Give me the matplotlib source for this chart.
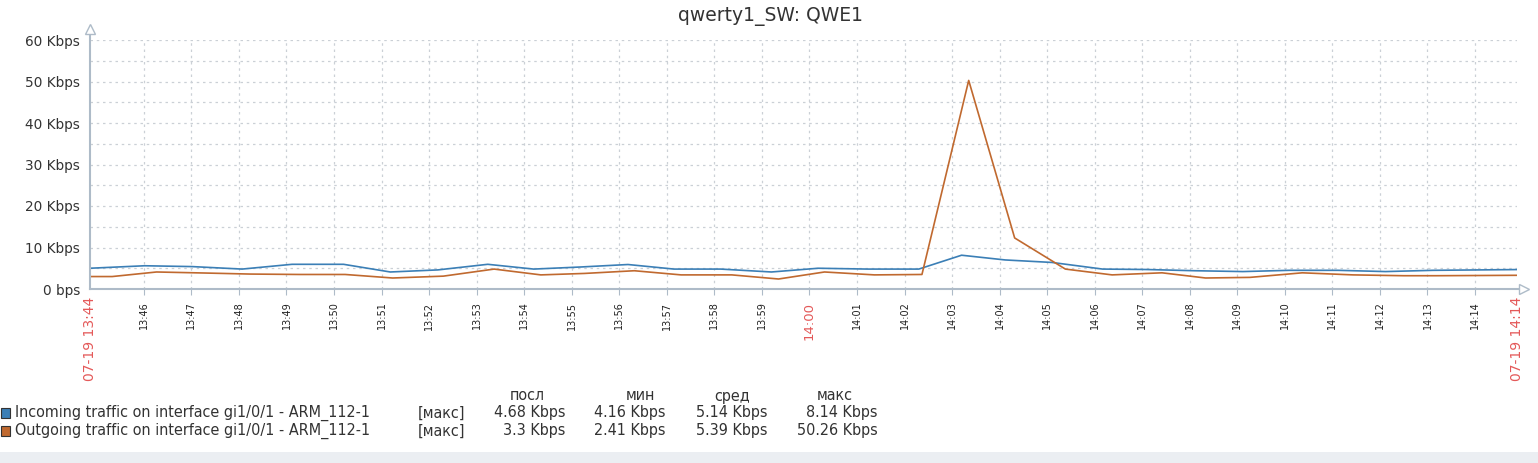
import pandas as pd
import matplotlib.pyplot as plt
from matplotlib import font_manager

# --- Datos ---
dia = "2024-07-19 "
t_in = ["13:44:52", "13:46:01", "13:47:01", "13:48:04", "13:49:07", "13:50:12",
        "13:51:11", "13:52:11", "13:53:14", "13:54:12", "13:55:11", "13:56:11",
        "13:57:09", "13:58:08", "13:59:12", "14:00:11", "14:01:14", "14:02:18",
        "14:03:12", "14:04:07", "14:05:06", "14:06:10", "14:07:04", "14:08:07",
        "14:09:07", "14:10:06", "14:11:07", "14:12:07", "14:13:07", "14:14:52"]
v_in = [5.0, 5.6, 5.4, 4.8, 5.95, 5.95, 4.1, 4.6, 5.95, 4.8, 5.3, 5.9,
        4.8, 4.8, 4.1, 5.0, 4.8, 4.8, 8.14, 7.0, 6.4, 4.8, 4.7, 4.4,
        4.2, 4.5, 4.5, 4.2, 4.5, 4.68]

t_out = ["13:44:52", "13:45:20", "13:46:16", "13:47:17", "13:48:14", "13:49:17",
         "13:50:14", "13:51:14", "13:52:18", "13:53:22", "13:54:21", "13:55:16",
         "13:56:19", "13:57:18", "13:58:22", "13:59:21", "14:00:19", "14:01:22",
         "14:02:22", "14:03:21", "14:04:19", "14:05:23", "14:06:22", "14:07:25",
         "14:08:20", "14:09:16", "14:10:22", "14:11:26", "14:12:30", "14:13:11",
         "14:14:52"]
v_out = [3.0, 3.0, 4.1, 3.85, 3.6, 3.5, 3.5, 2.65, 3.1, 4.8, 3.4, 3.75,
         4.4, 3.4, 3.4, 2.41, 4.1, 3.4, 3.5, 50.26, 12.3, 4.8, 3.4, 3.9,
         2.65, 2.8, 3.9, 3.4, 3.2, 3.2, 3.3]

y_ticks = [0, 10, 20, 30, 40, 50, 60]
y_labels = ["0 bps", "10 Kbps", "20 Kbps", "30 Kbps", "40 Kbps", "50 Kbps", "60 Kbps"]

series = ["Incoming traffic on interface gi1/0/1 - ARM_112-1",
          "Outgoing traffic on interface gi1/0/1 - ARM_112-1"]
cols = ["посл", "мин", "сред", "макс"]
stats = [["4.68 Kbps", "4.16 Kbps", "5.14 Kbps", "8.14 Kbps"],
         ["3.3 Kbps", "2.41 Kbps", "5.39 Kbps", "50.26 Kbps"]]

# --- Estilo ---
W, H = 1538, 463
c_in, c_out = "#3B7FB6", "#C0692F"
c_axis = "#AEBBC8"
c_grid = "#CBD0D6"
c_txt = "#333333"
c_red = "#E45959"

# fuente condensada para la leyenda (si existe)
nombres = {f.name for f in font_manager.fontManager.ttflist}
if "DejaVu Sans Condensed" in nombres:
    fuente_ley = dict(family="DejaVu Sans Condensed", fontsize=11.8)
elif "Liberation Sans Narrow" in nombres:
    fuente_ley = dict(family="Liberation Sans Narrow", fontsize=12.3)
else:
    fuente_ley = dict(family="DejaVu Sans", fontstretch="condensed", fontsize=11.5)

x_in = pd.to_datetime([dia + t for t in t_in])
x_out = pd.to_datetime([dia + t for t in t_out])
inicio = pd.Timestamp(dia + "13:44:52")
fin = pd.Timestamp(dia + "14:14:53")

fig = plt.figure(figsize=(W / 100, H / 100), dpi=100)
ax = fig.add_axes([90 / W, 1 - 289 / H, (1517 - 90) / W, (289 - 40) / H])

ax.plot(x_in, v_in, color=c_in, lw=1.2, zorder=3)
ax.plot(x_out, v_out, color=c_out, lw=1.2, zorder=3)

ax.set_xlim(inicio, fin)
ax.set_ylim(0, 60)

# rejilla
for v in range(5, 61, 5):
    ax.axhline(v, color=c_grid, lw=0.9, ls=(0, (2, 3)), zorder=1)
minutos = pd.date_range(dia + "13:46", dia + "14:14", freq="1min")
for m in minutos:
    ax.axvline(m, color=c_grid, lw=0.9, ls=(0, (2, 3)), zorder=1)

for s in ax.spines.values():
    s.set_visible(False)

# ejes con flechas
ax.plot([0, 0], [0, 1.04], transform=ax.transAxes, color=c_axis, lw=1.5, clip_on=False, zorder=4)
ax.plot([0, 1.003], [0, 0], transform=ax.transAxes, color=c_axis, lw=1.5, clip_on=False, zorder=4)
ax.plot([0], [1.045], transform=ax.transAxes, marker="^", ms=7, mfc="white", mec=c_axis, clip_on=False, zorder=5)
ax.plot([1.005], [0], transform=ax.transAxes, marker=">", ms=7, mfc="white", mec=c_axis, clip_on=False, zorder=5)

ax.set_yticks(y_ticks)
ax.set_yticklabels(y_labels)
ax.tick_params(axis="y", length=0, pad=7, labelsize=9.8, labelcolor=c_txt)

ax.set_xticks(minutos)
etiquetas = [m.strftime("%H:%M") for m in minutos]
ax.set_xticklabels(etiquetas, rotation=90)
ax.tick_params(axis="x", length=4, color=c_axis, pad=5, labelsize=7, labelcolor="#222222")
for lab, m in zip(ax.get_xticklabels(), minutos):
    if m.minute == 0:
        lab.set_color(c_red)
        lab.set_fontsize(9.5)

ax.text(0, -0.03, inicio.strftime("%m-%d %H:%M"), transform=ax.transAxes, rotation=90,
        ha="center", va="top", color=c_red, fontsize=10)
ax.text(1, -0.03, fin.strftime("%m-%d %H:%M"), transform=ax.transAxes, rotation=90,
        ha="center", va="top", color=c_red, fontsize=10)

fig.text(770 / W, 1 - 17 / H, "qwerty1_SW: QWE1", ha="center", va="center",
         fontsize=13.5, color=c_txt)

# leyenda
def fy(y):
    return 1 - y / H

col_x = [527, 640, 732, 835]
val_right = [565, 666, 768, 878]
for cx, c in zip(col_x, cols):
    fig.text(cx / W, fy(396), c, ha="center", va="center", color=c_txt, **fuente_ley)

for i, (nombre, color) in enumerate(zip(series, [c_in, c_out])):
    y = 413 + 18 * i
    fig.patches.append(plt.Rectangle((1 / W, fy(y + 5)), 9 / W, 10 / H, transform=fig.transFigure,
                                     facecolor=color, edgecolor="#333333", lw=0.8))
    fig.text(15 / W, fy(y), nombre, ha="left", va="center", color=c_txt, **fuente_ley)
    fig.text(418 / W, fy(y), "[макс]", ha="left", va="center", color=c_txt, **fuente_ley)
    for xr, val in zip(val_right, stats[i]):
        fig.text(xr / W, fy(y), val, ha="right", va="center", color=c_txt, **fuente_ley)

# franja inferior gris
fig.patches.append(plt.Rectangle((0, 0), 1, 11 / H, transform=fig.transFigure,
                                 facecolor="#EBEEF2", edgecolor="none"))

fig.savefig("out.png", dpi=100)
